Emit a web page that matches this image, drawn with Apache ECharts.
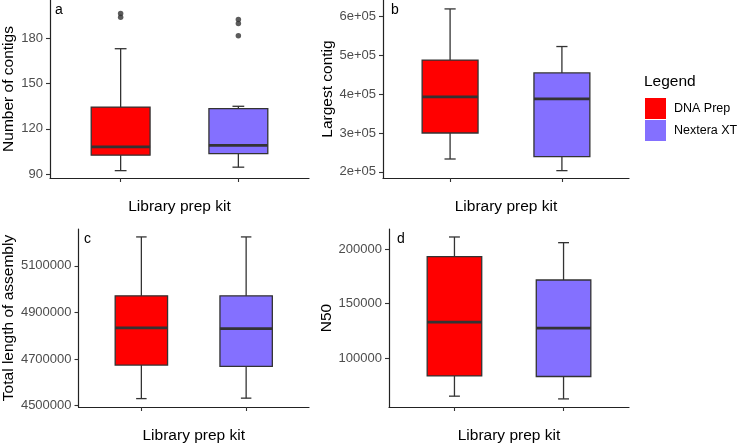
<!DOCTYPE html>
<html>
<head>
<meta charset="utf-8">
<script src="https://cdn.jsdelivr.net/npm/echarts@6/dist/echarts.min.js"></script>
<style>html,body{margin:0;padding:0;background:#fff}#c{width:740px;height:445px}</style>
</head>
<body>
<div id="c"></div>
<script>
// ---- data ----
const kits = ['DNA Prep', 'Nextera XT'];
const kitPositions = [1, 2];
const xAxisTitle = 'Library prep kit';
// each box: [lower whisker, Q1, median, Q3, upper whisker]
const contigsDNA = [92.2, 102.5, 108, 134.5, 173.3];
const contigsNXT = [94.5, 103.5, 109, 133.5, 135];
const contigsOutDNA = [196.7, 194.3];
const contigsOutNXT = [192.7, 190, 182];
const largestDNA = [233000, 300000, 393000, 488000, 620000];
const largestNXT = [203000, 239000, 388000, 455000, 523000];
const totalDNA = [4530000, 4674000, 4834000, 4971000, 5224000];
const totalNXT = [4532000, 4668000, 4830000, 4971000, 5224000];
const n50DNA = [65500, 84000, 133200, 193000, 211000];
const n50NXT = [63000, 83500, 127700, 171700, 205800];
const contigsTicks = [90, 120, 150, 180];
const largestTicks = [200000, 300000, 400000, 500000, 600000];
const totalTicks = [4500000, 4700000, 4900000, 5100000];
const n50Ticks = [100000, 150000, 200000];
const panelTitles = ['Number of contigs', 'Largest contig', 'Total length of assembly', 'N50'];
const panelLetters = ['a', 'b', 'c', 'd'];

// ---- style ----
const FONT = 'Liberation Sans, Arial, Helvetica, sans-serif';
const kitColors = ['#FF0000', '#8470FF'];
const INK = '#333333';
const grids = [
  {left: 47, top: 0, width: 262, height: 178},
  {left: 383, top: 0, width: 246, height: 178},
  {left: 76, top: 229, width: 233, height: 179},
  {left: 389, top: 229, width: 240, height: 178}
];
const yRanges = [[87.3, 205.7], [184000, 643000], [4494000, 5258000], [55600, 218300]];
const yTicks = [contigsTicks, largestTicks, totalTicks, n50Ticks];
const yNameGaps = [33, 45, 60, 51];
const yFormat = [
  v => String(v),
  v => (v / 100000) + 'e+05',
  v => String(v),
  v => String(v)
];
const boxes = [
  [contigsDNA, contigsNXT],
  [largestDNA, largestNXT],
  [totalDNA, totalNXT],
  [n50DNA, n50NXT]
];
const outliers = [[contigsOutDNA, contigsOutNXT], [], [], []];

function renderBox(params, api) {
  const x = api.value(0);
  const lo = api.coord([x, api.value(1)]);
  const q1 = api.coord([x, api.value(2)]);
  const md = api.coord([x, api.value(3)]);
  const q3 = api.coord([x, api.value(4)]);
  const hi = api.coord([x, api.value(5)]);
  const bw = api.size([0.5, 0])[0];
  const cw = api.size([0.1, 0])[0];
  const cx = lo[0];
  const lw = 1.3;
  return {
    type: 'group',
    children: [
      {type: 'line', shape: {x1: cx, y1: lo[1], x2: cx, y2: hi[1]}, style: {stroke: INK, lineWidth: lw}},
      {type: 'line', shape: {x1: cx - cw / 2, y1: lo[1], x2: cx + cw / 2, y2: lo[1]}, style: {stroke: INK, lineWidth: lw}},
      {type: 'line', shape: {x1: cx - cw / 2, y1: hi[1], x2: cx + cw / 2, y2: hi[1]}, style: {stroke: INK, lineWidth: lw}},
      {type: 'rect', shape: {x: cx - bw / 2, y: q3[1], width: bw, height: q1[1] - q3[1]},
        style: {fill: api.visual('color'), stroke: INK, lineWidth: lw}},
      {type: 'line', shape: {x1: cx - bw / 2, y1: md[1], x2: cx + bw / 2, y2: md[1]}, style: {stroke: INK, lineWidth: 2.7}}
    ]
  };
}

const option = {
  animation: false,
  backgroundColor: '#ffffff',
  textStyle: {fontFamily: FONT},
  grid: grids.map(g => Object.assign({containLabel: false}, g)),
  xAxis: grids.map((g, i) => ({
    type: 'value', gridIndex: i, min: 0.4, max: 2.6,
    name: xAxisTitle, nameLocation: 'middle', nameGap: 21,
    nameTextStyle: {fontSize: 15.5, color: '#000', fontFamily: FONT},
    axisLine: {show: true, lineStyle: {color: '#222', width: 1.2}},
    axisTick: {show: true, length: 4, customValues: kitPositions, lineStyle: {color: INK, width: 1.1}},
    axisLabel: {show: false},
    splitLine: {show: false}
  })),
  yAxis: grids.map((g, i) => ({
    type: 'value', gridIndex: i, min: yRanges[i][0], max: yRanges[i][1],
    name: panelTitles[i], nameLocation: 'middle', nameRotate: 90, nameGap: yNameGaps[i],
    nameTextStyle: {fontSize: 15.5, color: '#000', fontFamily: FONT},
    axisLine: {show: true, lineStyle: {color: '#222', width: 1.2}},
    axisTick: {show: true, length: 4, customValues: yTicks[i], lineStyle: {color: INK, width: 1.1}},
    axisLabel: {show: true, customValues: yTicks[i], margin: 7, fontSize: 13, color: '#4D4D4D',
      fontFamily: FONT, formatter: yFormat[i]},
    splitLine: {show: false}
  })),
  title: [
    {text: 'Legend', left: 644, top: 74, textStyle: {fontSize: 15.5, fontWeight: 'normal', color: '#000', fontFamily: FONT}, padding: 0},
    ...panelLetters.map((l, i) => ({
      text: l, left: grids[i].left + 8, top: grids[i].top + 3, padding: 0,
      textStyle: {fontSize: 14, fontWeight: 'normal', color: '#000', fontFamily: FONT}
    }))
  ],
  legend: {
    data: kits, orient: 'vertical', left: 645, top: 98, icon: 'rect',
    itemWidth: 21, itemHeight: 21, itemGap: 1, padding: 0,
    textStyle: {fontSize: 12.5, color: '#000', fontFamily: FONT, padding: [0, 0, 0, 3]},
    selectedMode: false
  },
  series: []
};

boxes.forEach((pair, i) => {
  pair.forEach((b, k) => {
    option.series.push({
      type: 'custom', name: kits[k], xAxisIndex: i, yAxisIndex: i,
      itemStyle: {color: kitColors[k]},
      encode: {x: 0, y: [1, 2, 3, 4, 5]},
      renderItem: renderBox,
      data: [[kitPositions[k]].concat(b)]
    });
  });
  (outliers[i] || []).forEach((vals, k) => {
    option.series.push({
      type: 'scatter', xAxisIndex: i, yAxisIndex: i, symbolSize: 5.5,
      itemStyle: {color: INK}, silent: true,
      data: vals.map(v => [kitPositions[k], v])
    });
  });
});

const chart = echarts.init(document.getElementById('c'), null, {renderer: 'canvas'});
chart.setOption(option);
</script>
</body>
</html>
